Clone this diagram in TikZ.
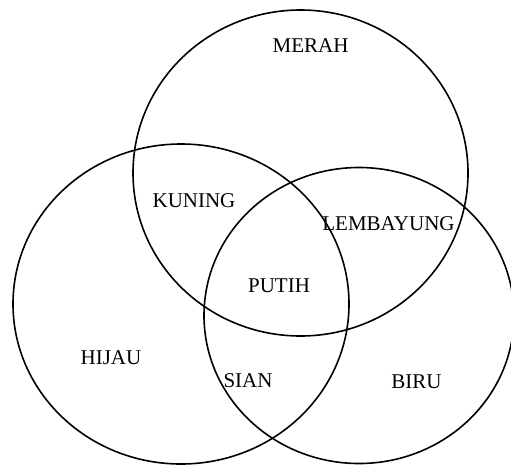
\documentclass[tikz,border=0pt]{standalone}
\usepackage{fontspec}
\setmainfont{Liberation Serif}
\begin{document}
\begin{tikzpicture}[x=1pt,y=-1pt,
  ring/.style={draw=black,line width=1.6pt},
  lbl/.style={inner sep=0pt,font=\fontsize{21}{25}\selectfont}]
\useasboundingbox (0,0) rectangle (511,466);
% three overlapping colour sets
\coordinate (cRed) at (300.5,173);
\coordinate (cGreen) at (181,304);
\coordinate (cBlue) at (359,315.5);
\draw[ring] (cRed) ellipse [x radius=167.5, y radius=163];
\draw[ring] (cGreen) ellipse [x radius=168, y radius=160];
\draw[ring] (cBlue) ellipse [x radius=155, y radius=148];
% region labels
\node[lbl] (merah) at (310.5,46) {MERAH};
\node[lbl] (kuning) at (194,201) {KUNING};
\node[lbl] (lembayung) at (388.5,224) {LEMBAYUNG};
\node[lbl] (putih) at (279,286) {PUTIH};
\node[lbl] (hijau) at (111,358) {HIJAU};
\node[lbl] (sian) at (248,381) {SIAN};
\node[lbl] (biru) at (416.5,381.5) {BIRU};
\end{tikzpicture}
\end{document}
